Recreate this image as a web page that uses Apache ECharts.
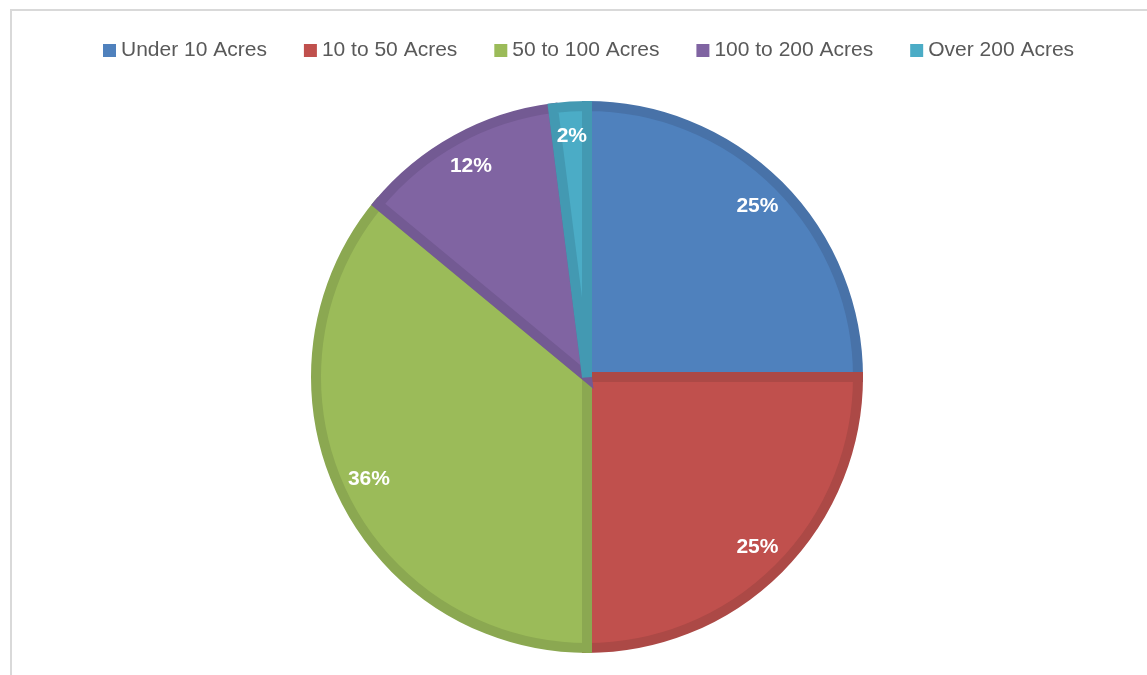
<!DOCTYPE html>
<html><head><meta charset="utf-8">
<script src="https://cdn.jsdelivr.net/npm/echarts@6/dist/echarts.min.js"></script>
<style>html,body{margin:0;padding:0;background:#fff;}#c{width:1147px;height:675px;}</style>
</head><body><div id="c"></div>
<script>
const categories = ['Under 10 Acres', '10 to 50 Acres', '50 to 100 Acres', '100 to 200 Acres', 'Over 200 Acres'];
const values = [25, 25, 36, 12, 2];
const fillColors = ['#4F81BD', '#C0504D', '#9BBB59', '#8064A2', '#4BACC6'];
const borderColors = ['#4872A8', '#AC4946', '#8BA851', '#735A93', '#4399B2'];

const chart = echarts.init(document.getElementById('c'), null, {renderer: 'canvas'});
const data = categories.map((n, i) => ({
  name: n, value: values[i],
  itemStyle: {color: fillColors[i], borderColor: borderColors[i]}
}));
chart.setOption({
  animation: false,
  color: fillColors,
  graphic: [{type: 'rect', shape: {x: 11, y: 10, width: 1200, height: 700},
    style: {fill: 'none', stroke: '#d9d9d9', lineWidth: 2}, silent: true}],
  legend: {
    top: 35, left: 98, itemWidth: 13, itemHeight: 13, itemGap: 37,
    icon: 'rect',
    itemStyle: {borderWidth: 0},
    textStyle: {fontFamily: 'Liberation Sans, Arial, sans-serif', fontSize: 21, color: '#595959'},
    data: categories
  },
  series: [{
    type: 'pie', center: [587, 377], radius: [0, 271], startAngle: 90, clockwise: true,
    itemStyle: {borderWidth: 10, borderJoin: 'miter'},
    label: {show: false}, labelLine: {show: false},
    emphasis: {disabled: true},
    data: data
  }, {
    type: 'pie', center: [587, 377], radius: [200, 276], startAngle: 90, clockwise: true,
    silent: true,
    itemStyle: {color: 'transparent', borderWidth: 0},
    label: {show: true, position: 'inside', formatter: '{d}%', color: '#fff',
      fontFamily: 'Liberation Sans, Arial, sans-serif', fontWeight: 'bold', fontSize: 21},
    labelLine: {show: false},
    emphasis: {disabled: true},
    data: categories.map((n, i) => ({name: n, value: values[i]}))
  }]
});
</script></body></html>
